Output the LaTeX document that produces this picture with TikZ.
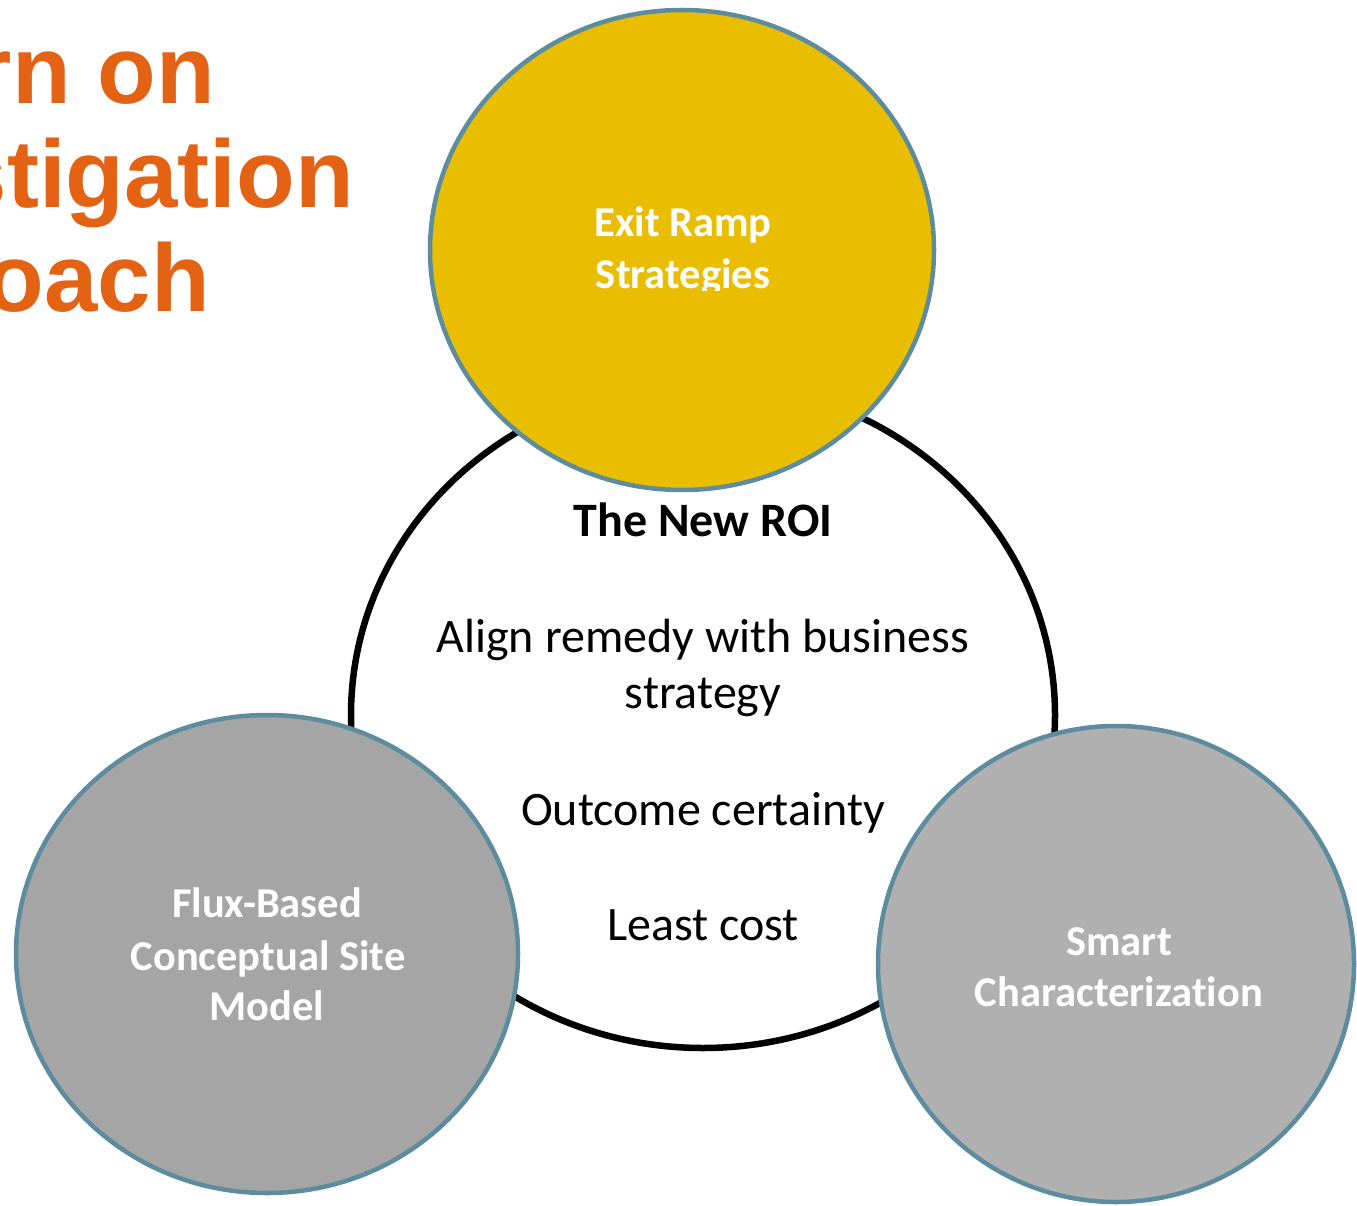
\documentclass[tikz,border=0pt]{standalone}
\usepackage{fontspec}
\setmainfont{Carlito}[Ligatures=NoCommon]
\newfontfamily\titlefont{Liberation Sans}
\usetikzlibrary{shapes.geometric}
\definecolor{titleorange}{RGB}{227,98,20}
\definecolor{exityellow}{RGB}{233,190,0}
\definecolor{bordblue}{RGB}{92,140,158}
\definecolor{fluxgray}{RGB}{165,165,165}
\definecolor{smartgray}{RGB}{176,176,176}
\begin{document}
\begin{tikzpicture}[x=1pt,y=-1pt,
  bubble/.style={ellipse, draw=bordblue, line width=4.5pt, inner sep=0pt},
  bubtxt/.style={anchor=base, text=white, inner sep=0pt, font=\fontsize{42.5}{51}\selectfont\bfseries},
  roitxt/.style={anchor=base, text=black, inner sep=0pt, font=\fontsize{48}{56}\selectfont},
  titletxt/.style={anchor=base east, text=titleorange, inner sep=0pt, font=\titlefont\bfseries\fontsize{96}{104}\selectfont}]
\clip (0,0) rectangle (1357,1206);
\fill[white] (0,0) rectangle (1357,1206);
% title (cut at the left edge, as in the reference)
\node[titletxt] (t1) at (215,104) {rn on};
\node[titletxt] (t2) at (354,208) {stigation};
\node[titletxt] (t3) at (210,312) {oach};
% central ring
\node[ellipse, draw=black, line width=6.5pt, inner sep=0pt, minimum width=704pt, minimum height=666pt] (roi) at (703,715) {};
% bubbles
\node[bubble, fill=exityellow, minimum width=504pt, minimum height=480pt] (exit) at (682,250) {};
\node[bubble, fill=fluxgray, minimum width=502pt, minimum height=478pt] (flux) at (267,954) {};
\node[bubble, fill=smartgray, minimum width=476pt, minimum height=476pt] (smart) at (1116,964) {};
% bubble texts
\begin{scope}
\clip (540,180) rectangle (830,291);
\node[bubtxt] (exit1) at (683,237) {Exit Ramp};
\node[bubtxt] (exit2) at (683,289) {Strategies};
\end{scope}
\node[bubtxt] (flux1) at (267,917) {Flux-Based};
\node[bubtxt] (flux2) at (268,970) {Conceptual Site};
\node[bubtxt] (flux3) at (267,1020) {Model};
\node[bubtxt] (smart1) at (1119,955) {Smart};
\node[bubtxt] (smart2) at (1119,1006) {Characterization};
% ROI texts
\node[roitxt, font=\fontsize{48}{56}\selectfont\bfseries] (roi0) at (703,536) {The New ROI};
\node[roitxt] (roi1) at (703,652) {Align remedy with business};
\node[roitxt] (roi2) at (703,708) {strategy};
\node[roitxt] (roi3) at (703,825) {Outcome certainty};
\node[roitxt] (roi4) at (703,940) {Least cost};
\end{tikzpicture}
\end{document}
